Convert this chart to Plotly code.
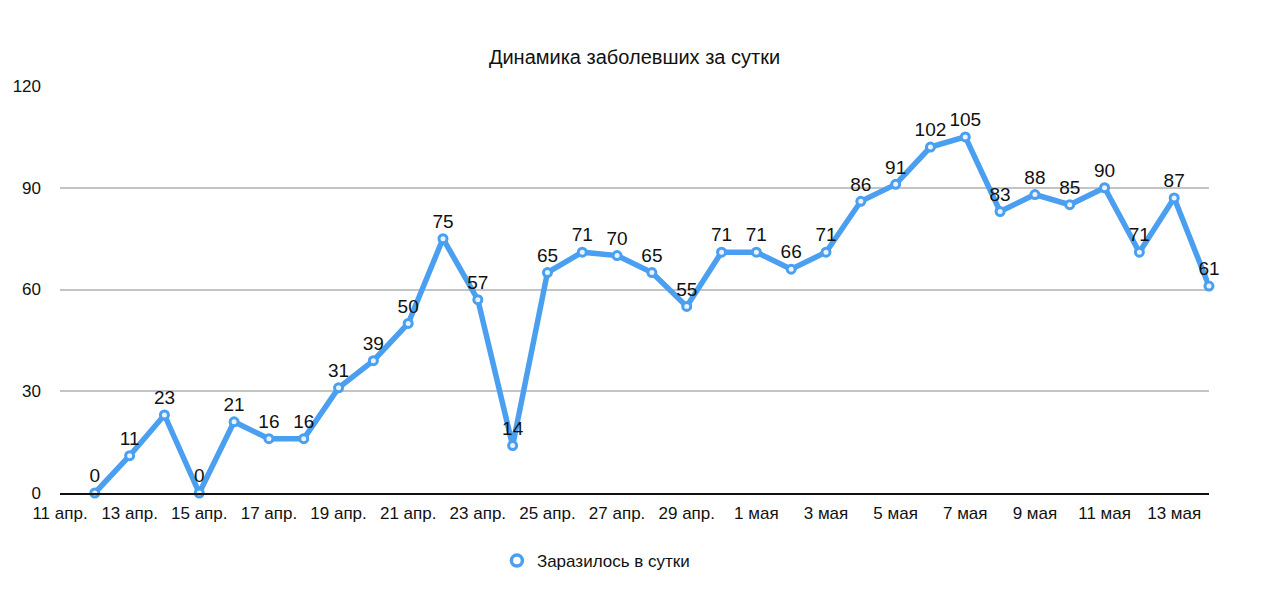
import plotly.graph_objects as go

dates = ["2020-04-12", "2020-04-13", "2020-04-14", "2020-04-15", "2020-04-16", "2020-04-17",
         "2020-04-18", "2020-04-19", "2020-04-20", "2020-04-21", "2020-04-22", "2020-04-23",
         "2020-04-24", "2020-04-25", "2020-04-26", "2020-04-27", "2020-04-28", "2020-04-29",
         "2020-04-30", "2020-05-01", "2020-05-02", "2020-05-03", "2020-05-04", "2020-05-05",
         "2020-05-06", "2020-05-07", "2020-05-08", "2020-05-09", "2020-05-10", "2020-05-11",
         "2020-05-12", "2020-05-13", "2020-05-14"]
cases = [0, 11, 23, 0, 21, 16, 16, 31, 39, 50, 75, 57, 14, 65, 71, 70, 65, 55, 71, 71, 66,
         71, 86, 91, 102, 105, 83, 88, 85, 90, 71, 87, 61]

tick_vals = ["2020-04-11", "2020-04-13", "2020-04-15", "2020-04-17", "2020-04-19", "2020-04-21",
             "2020-04-23", "2020-04-25", "2020-04-27", "2020-04-29", "2020-05-01", "2020-05-03",
             "2020-05-05", "2020-05-07", "2020-05-09", "2020-05-11", "2020-05-13"]
tick_text = ["11 апр.", "13 апр.", "15 апр.", "17 апр.", "19 апр.", "21 апр.", "23 апр.",
             "25 апр.", "27 апр.", "29 апр.", "1 мая", "3 мая", "5 мая", "7 мая", "9 мая",
             "11 мая", "13 мая"]

series_name = "Заразилось в сутки"
title_text = "Динамика заболевших за сутки"
blue = "#4a9ff0"
font_family = "Liberation Sans, Arial, Helvetica, sans-serif"

fig = go.Figure()
fig.add_trace(go.Scatter(
    x=dates, y=cases, mode="lines+markers+text",
    text=[str(v) for v in cases], textposition="top center",
    textfont=dict(size=19, color="#111111", family=font_family),
    line=dict(color=blue, width=5.5),
    marker=dict(size=8, color="#e8f3fd", line=dict(color=blue, width=3)),
    cliponaxis=False, showlegend=False, name=series_name,
))
fig.add_trace(go.Scatter(
    x=[None], y=[None], mode="markers", name=series_name,
    marker=dict(size=11, color="white", line=dict(color=blue, width=3.5)),
    showlegend=True,
))

fig.update_layout(
    width=1280, height=614,
    margin=dict(l=60, r=71, t=86, b=121),
    paper_bgcolor="white", plot_bgcolor="white",
    font=dict(family=font_family, size=17, color="#111111"),
    title=dict(text=title_text, x=0.4957, xanchor="center", xref="container",
               y=1 - 57 / 614, yanchor="middle", yref="container",
               font=dict(size=20, color="#111111")),
    legend=dict(orientation="h", x=0.4664, xanchor="center", y=-0.167, yanchor="middle",
                font=dict(size=17, color="#111111"), itemwidth=30),
    showlegend=True,
)
fig.update_xaxes(
    type="date", range=["2020-04-11", "2020-05-14"],
    tickvals=tick_vals, ticktext=tick_text,
    showgrid=False, showline=True, linecolor="#111111", linewidth=2,
    ticks="", tickfont=dict(size=17, color="#111111"), zeroline=False,
    ticklabelstandoff=4,
)
fig.update_yaxes(
    range=[0, 120], tickvals=[0, 30, 60, 90, 120],
    showgrid=True, gridcolor="#c4c4c4", gridwidth=1.5,
    zeroline=False, showline=False, ticks="",
    ticklabelstandoff=18, tickfont=dict(size=17, color="#111111"),
)

fig.write_html("out.html")
